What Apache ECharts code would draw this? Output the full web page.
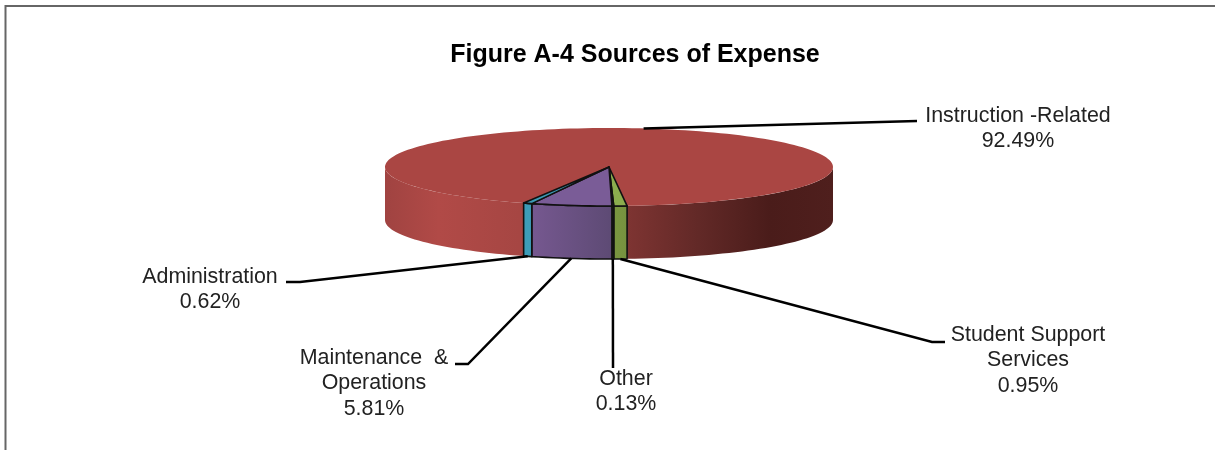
<!DOCTYPE html>
<html><head><meta charset="utf-8">
<style>html,body{margin:0;padding:0;background:#fff}#c{width:1215px;height:450px}</style>
<script src="https://cdn.jsdelivr.net/npm/echarts@6/dist/echarts.min.js"></script>
</head><body><div id="c"></div>
<script>
// Data, in clockwise drawing order from the first slice
var categories = ['Instruction -Related', 'Student Support\nServices', 'Other', 'Maintenance  &\nOperations', 'Administration'];
var shares = [92.49, 0.95, 0.13, 5.81, 0.62];
var firstSliceAngle = 202.4;

// Layout and styling
var disc = {cx: 609, cy: 167, rx: 224, ry: 39, depth: 53};
var topColors = ['#AA4643', '#8BAD4E', '#4F6228', '#7A5C97', '#3C9BB6'];
var wallStops = [
  [[0, '#a04341'], [0.12, '#b14a47'], [0.3, '#a64643'], [0.54, '#7e3432'], [0.7, '#622927'], [0.86, '#4a1c1a'], [1, '#4f1f1d']],
  [[0, '#7a9640'], [1, '#76923f']],
  [[0, '#3a3a20'], [1, '#3a3a20']],
  [[0, '#765890'], [1, '#5d4a74']],
  [[0, '#3d9cb8'], [1, '#3d9cb8']]
];
var labelPos = [[1018, 103], [1028, 322], [626, 366], [374, 345], [210, 264]];
var elbows = [
  [[917, 121]],
  [[932, 342], [945, 342]],
  [[613, 368]],
  [[468, 364], [455, 364]],
  [[300, 282], [286, 282]]
];

function pt(t, dy) {
  var a = t * Math.PI / 180;
  return [disc.cx + disc.rx * Math.sin(a), disc.cy - disc.ry * Math.cos(a) + (dy || 0)];
}
function arcPts(a, b, dy) {
  var n = Math.max(2, Math.ceil(Math.abs(b - a) / 2)), out = [];
  for (var i = 0; i <= n; i++) out.push(pt(a + (b - a) * i / n, dy));
  return out;
}
function wallPoly(a, b) {
  return arcPts(a, b, 0).concat(arcPts(b, a, disc.depth));
}
function renderSlice(params, api) {
  var i = params.dataIndex;
  var start = firstSliceAngle;
  for (var k = 0; k < i; k++) start += shares[k] * 3.6;
  var sweep = api.value(0) * 3.6, end = start + sweep, mid = (start + end) / 2;
  var isLarge = sweep > 180;
  var line = isLarge ? null : '#111';
  var fill = {
    type: 'linear', x: 0, y: 0, x2: 1, y2: 0, global: false,
    colorStops: wallStops[i].map(function (s) { return {offset: s[0], color: s[1]}; })
  };
  if (isLarge) {
    fill.global = true;
    fill.x = disc.cx - disc.rx; fill.x2 = disc.cx + disc.rx;
  }
  var kids = [];
  // outer wall: only the front half of the ellipse shows
  for (var m = -1; m <= 2; m++) {
    var a = Math.max(start, 90 + 360 * m), b = Math.min(end, 270 + 360 * m);
    if (b > a) kids.push({type: 'polygon', silent: true, shape: {points: wallPoly(a, b)},
      style: {fill: fill, stroke: line, lineWidth: 1.6, lineJoin: 'round'}});
  }
  // top face
  kids.push({type: 'polygon', silent: true,
    shape: {points: [[disc.cx, disc.cy]].concat(arcPts(start, end, 0))},
    style: {fill: topColors[i], stroke: line, lineWidth: 1.6, lineJoin: 'round'}});
  // leader line
  var anchor = isLarge ? pt(mid, 0) : pt(mid, disc.depth);
  kids.push({type: 'polyline', silent: true, z2: 20, shape: {points: [anchor].concat(elbows[i])},
    style: {fill: null, stroke: '#000', lineWidth: 2.5}});
  // label
  kids.push({type: 'text', silent: true, z2: 30, style: {
    x: labelPos[i][0], y: labelPos[i][1],
    text: categories[i] + '\n' + api.value(0).toFixed(2) + '%',
    fill: '#222', align: 'center', verticalAlign: 'top',
    font: '21.4px "Liberation Sans", Arial, sans-serif', lineHeight: 25.6
  }});
  return {type: 'group', children: kids};
}

var chart = echarts.init(document.getElementById('c'), null, {renderer: 'canvas'});
chart.setOption({
  animation: false,
  backgroundColor: '#fff',
  title: {
    text: 'Figure A-4 Sources of Expense', left: 630, top: 38, textAlign: 'center',
    textStyle: {color: '#000', fontSize: 25, fontWeight: 'bold', fontFamily: '"Liberation Sans", Arial, sans-serif'}
  },
  graphic: [
    {type: 'polyline', silent: true, shape: {points: [[5.5, 450], [5.5, 6], [1215, 6]]},
     style: {fill: null, stroke: '#666', lineWidth: 2}}
  ],
  series: [{
    type: 'custom', coordinateSystem: 'none', renderItem: renderSlice,
    data: shares.map(function (v, i) { return {name: categories[i], value: [v]}; })
  }]
});
</script></body></html>
